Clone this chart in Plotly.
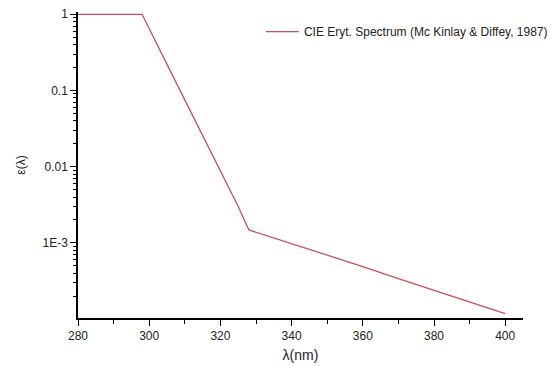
import plotly.graph_objects as go

wavelength = [280, 290, 298, 305, 310, 315, 320, 325, 328, 340, 350, 360, 370, 380, 390, 400]
erythema = [1.0, 1.0, 1.0, 0.22, 0.075, 0.026, 0.0088, 0.0030, 0.00148,
            0.00098, 0.00069, 0.00049, 0.00034, 0.00024, 0.00017, 0.000118]

y_tick_vals = [1, 0.1, 0.01, 0.001]
y_tick_text = ["1", "0.1", "0.01", "1E-3"]
y_minor_vals = [m * d for d in [0.0001, 0.001, 0.01, 0.1] for m in range(2, 10)]

fig = go.Figure()
fig.add_trace(go.Scatter(
    x=wavelength, y=erythema, mode="lines",
    line=dict(color="#c8505a", width=1.3),
    name="CIE Eryt. Spectrum (Mc Kinlay & Diffey, 1987)",
))

fig.update_layout(
    width=558, height=366,
    margin=dict(l=78, r=35, t=12, b=48, autoexpand=False),
    paper_bgcolor="white", plot_bgcolor="white",
    font=dict(family="Liberation Sans, Arial, sans-serif", size=12, color="#222"),
    showlegend=True,
    legend=dict(x=0.411, y=0.983, xanchor="left", yanchor="top",
                bgcolor="rgba(0,0,0,0)", font=dict(size=12),
                itemwidth=33),
    xaxis=dict(
        range=[280, 405], tickvals=[280, 300, 320, 340, 360, 380, 400],
        ticks="outside", ticklen=6, tickwidth=1.2, tickcolor="black",
        showline=True, linecolor="black", linewidth=1.5, showgrid=False, zeroline=False,
        automargin=False,
        minor=dict(ticks="outside", ticklen=4, tickwidth=1.2, tickcolor="black", dtick=10, showgrid=False),
        title=dict(text="λ(nm)", font=dict(size=14), standoff=8),
    ),
    yaxis=dict(
        type="log", range=[-3.985, 0.03],
        tickvals=y_tick_vals, ticktext=y_tick_text,
        ticks="outside", ticklen=6, tickwidth=1.2, tickcolor="black",
        showline=True, linecolor="black", linewidth=1.5, showgrid=False, zeroline=False,
        automargin=False,
        minor=dict(ticks="outside", ticklen=3, tickwidth=1, tickcolor="black", tickvals=y_minor_vals, showgrid=False),
        title=dict(text="ε(λ)", font=dict(size=12), standoff=14),
    ),
)

fig.write_html("out.html")
